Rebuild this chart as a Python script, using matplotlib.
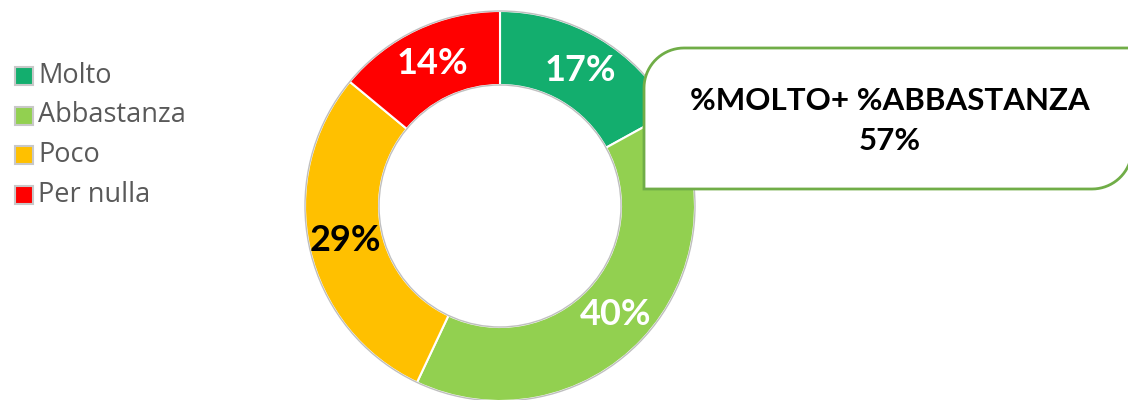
import numpy as np
import matplotlib

matplotlib.use("Agg")
import matplotlib.pyplot as plt
from matplotlib.patches import Circle, Rectangle, PathPatch
from matplotlib.path import Path

plt.rcParams["font.family"] = ["Lato", "DejaVu Sans"]

categories = ["Molto", "Abbastanza", "Poco", "Per nulla"]
values = [17, 40, 29, 14]
colors = ["#13AE6E", "#92D050", "#FFC000", "#FF0000"]
label_colors = ["white", "white", "black", "white"]
callout_title = "%MOLTO+ %ABBASTANZA"
callout_value = f"{values[0] + values[1]}%"

W, H = 1128, 400
fig = plt.figure(figsize=(W / 100, H / 100), dpi=100)
ax = fig.add_axes([0, 0, 1, 1])

# --- donut ---
cx, cy, R, rin = 500, 400 - 206, 195, 121
wedges, texts, autotexts = ax.pie(
    values, colors=colors, startangle=90, counterclock=False,
    center=(cx, cy), radius=R, frame=True,
    wedgeprops=dict(width=R - rin, edgecolor="white", linewidth=1.5),
    autopct=lambda p: f"{p:.0f}%", pctdistance=0.81,
    textprops=dict(fontsize=26, fontweight="bold"),
)
for t, c in zip(autotexts, label_colors):
    t.set_color(c)
ax.set_xlim(0, W)
ax.set_ylim(0, H)
ax.set_aspect("equal")
ax.axis("off")
for r in (R, rin):
    ax.add_patch(Circle((cx, cy), r, fill=False, edgecolor="#BFBFBF", linewidth=1))

# --- legend ---
for i, (cat, col) in enumerate(zip(categories, colors)):
    y = 400 - (76 + i * 39.5)
    ax.add_patch(Rectangle((15, y - 9), 18, 18, facecolor=col,
                           edgecolor="#C8C8C8", linewidth=1.5))
    ax.text(38, y, cat, fontsize=19.5, color="#595959", va="center", ha="left",
            family=["Open Sans", "DejaVu Sans"])

# --- callout box (rounded top-left and bottom-right) ---
x0, x1, yb, yt, rr = 644, 1132, 400 - 189, 400 - 48, 40
pts = [(x0, yb), (x0, yt - rr)]
a = np.linspace(np.pi, np.pi / 2, 20)
pts += [(x0 + rr + rr * np.cos(t), yt - rr + rr * np.sin(t)) for t in a]
pts += [(x1, yt), (x1, yb + rr)]
a = np.linspace(0, -np.pi / 2, 20)
pts += [(x1 - rr + rr * np.cos(t), yb + rr + rr * np.sin(t)) for t in a]
pts += [(x0, yb)]
codes = [Path.MOVETO] + [Path.LINETO] * (len(pts) - 2) + [Path.CLOSEPOLY]
ax.add_patch(PathPatch(Path(pts, codes), facecolor="white",
                       edgecolor="#70AD47", linewidth=2, zorder=5))
ax.text(890, 400 - 101, callout_title, fontsize=22.5, fontweight="bold",
        ha="center", va="center", zorder=6)
ax.text(890, 400 - 141, callout_value, fontsize=22.5, fontweight="bold",
        ha="center", va="center", zorder=6)

fig.savefig("out.png", dpi=100)
